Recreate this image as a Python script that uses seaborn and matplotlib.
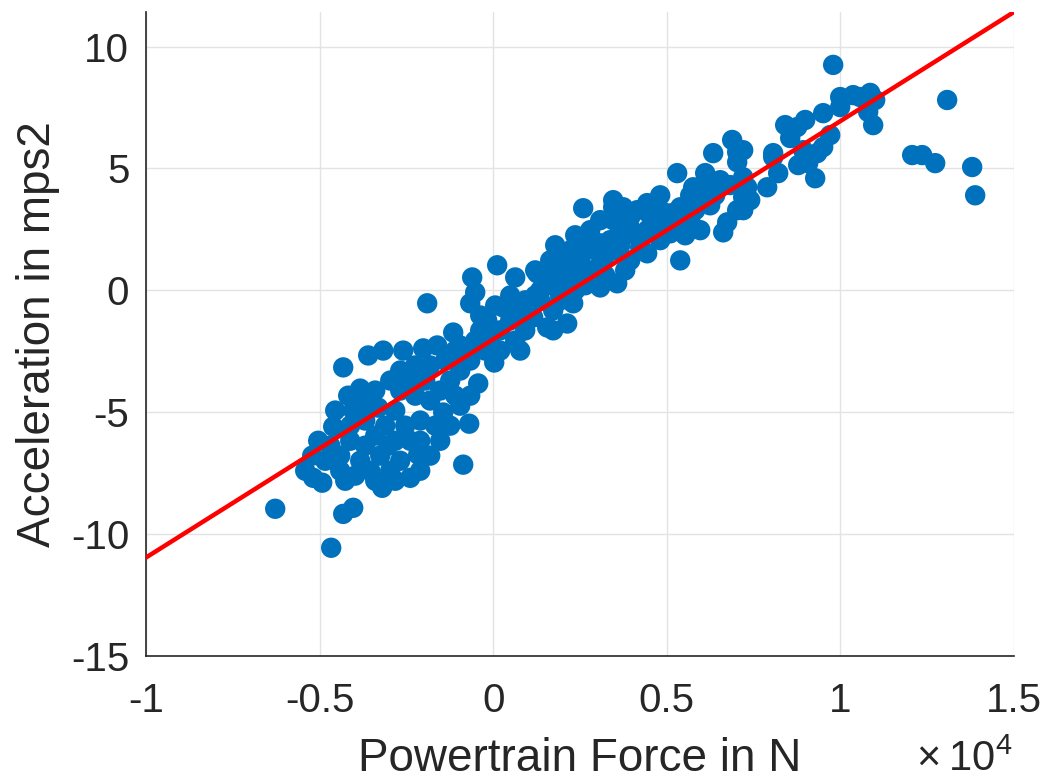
import numpy as np
import pandas as pd
import matplotlib
matplotlib.use("Agg")
import matplotlib.pyplot as plt
import matplotlib.ticker as mticker
import seaborn as sns

# ---- data ----
force_N = [
    -6278, -4666, -4320, -4032, -5184, -4925, -4262, -3197, -2390, -2160,
    -864, -691, -1440, -5040, -4608, -4032, -4320, -3600, -3168, -2592,
    -1901, -1152, -3830, -3312, -432, 29, -2016,
    -4694, -4406, -4118, -3830, -3542, -3686, -3254, -2966, -2822, -2678,
    -3110, -2822, -2534, -2390, -2102, -1814, -1526, -1958, -2246, -2678,
    -2966, -3398, -3686, -4118, -4406, -3974, -3398, -2822, -2102, -1814,
    -1526, -1238, -950, -1238, -950, -1382, -1814, -2246, -2678, -2390,
    -1613, -806, -518, -1094, -662, -4550, -4176, -4838, -5213, -5414,
    -3398, -3024, -3485, -2102, -1670, -1094, -3830,
    -374, -86, 202, 490, -230, -662, -950, 202, 634, 922, 778,
    -662, -518, -605, 115, 634, -173, 288, 778, 1152, 1267, 1555, 1728,
    1555, 2131, 2304, 1728, 1210, 922, 1498, 490, 58, -374, 1354, 1930, 634,
    1354, 1642, 1930, 2218, 1930, 2362, 2650, 2794, 3082, 2938, 3226, 3514,
    3370, 3658, 3802, 3946, 2506, 2218, 1930, 2650, 2592, 3082, 3456, 3456,
    3456, 3744, 4147, 3082, 3571, 2707, 4234, 3946, 4435, 3658, 3946, 4435,
    4810, 4522, 4666, 4234, 3802, 3226, 2218, 2016, 1642, 1210, 1786, 2794,
    3082, 2362,
    4810, 5098, 4435, 5386, 5098, 5674, 5962, 5386, 5760, 6163, 6538, 5299,
    6106, 6336, 6883, 7027, 7027, 7315, 7200, 7027, 6739, 6624, 7891, 8064,
    4810, 4954, 5242, 5530, 5818, 5962, 6250, 5674, 6394, 6826,
    9792, 9994, 10368, 10858, 11002, 10800, 10944, 9994, 13075, 12067, 12355,
    12730, 13795, 13882, 9504, 8986, 8410, 8554, 9706, 9504, 9331, 8928,
    8064, 8208, 8784, 9274, 9072, 7200, 7200, 7402, 7200, 8755, 10570,
]
accel_mps2 = [
    -8.96, -10.56, -9.17, -8.92, -7.69, -7.89, -7.81, -8.10, -7.69, -6.74,
    -7.15, -5.47, -5.01, -6.17, -5.59, -4.93, -3.16, -2.67, -2.47, -2.47,
    -0.53, -1.73, -4.03, -4.81, -3.82, -2.96, -2.38,
    -6.37, -6.78, -6.17, -6.99, -7.40, -6.37, -6.78, -7.40, -6.17, -6.99,
    -5.55, -4.93, -5.55, -6.17, -5.34, -4.52, -4.11, -3.70, -4.32, -4.11,
    -3.70, -4.11, -5.34, -5.55, -7.40, -7.60, -7.81, -7.81, -7.40, -6.78,
    -6.17, -5.55, -4.73, -3.70, -3.29, -2.88, -3.08, -3.08, -3.29, -3.70,
    -2.26, -2.55, -2.06, -2.47, -4.32, -4.93, -4.32, -6.99, -6.78, -7.40,
    -5.96, -6.37, -4.73, -6.17, -5.55, -4.32, -4.52,
    -1.64, -2.06, -1.64, -1.23, -2.47, -2.88, -2.26, -2.47, -2.06, -1.64, -2.47,
    -0.53, -0.08, 0.53, 1.03, 0.53, -1.23, -0.70, -0.95, -1.11, 0.70, 0.82, -0.82,
    -1.52, -1.36, -0.53, -1.64, -0.21, -0.41, 0.21, -0.21, -0.62, -1.03, -0.41, -0.41, -0.82,
    0.00, 0.21, 0.41, 0.62, -0.21, 0.00, 0.21, 0.82, 1.03, 1.64, 1.44, 1.64,
    2.06, 1.85, 2.26, 2.55, 1.23, 1.15, 1.03, 1.93, 3.37, 1.93, 3.41, 2.88,
    3.70, 3.41, 3.29, 0.12, 0.29, 0.82, 1.77, 1.23, 2.47, 2.47, 3.00, 3.58,
    3.90, 3.08, 2.67, 2.26, 0.82, 0.62, 1.64, 1.36, 1.23, 0.82, 1.85, 2.47,
    2.88, 2.26,
    2.06, 2.34, 1.52, 1.23, 3.16, 2.88, 2.47, 3.41, 4.23, 4.40, 4.52, 4.81,
    4.81, 5.63, 6.17, 5.67, 5.26, 4.23, 3.82, 3.29, 2.79, 2.38, 4.23, 5.63,
    3.29, 2.88, 2.67, 2.26, 3.29, 3.70, 3.49, 3.90, 3.90, 4.32,
    9.25, 7.93, 8.01, 8.10, 7.81, 7.32, 6.78, 7.52, 7.81, 5.55, 5.55,
    5.22, 5.06, 3.90, 7.27, 6.99, 6.78, 6.25, 6.37, 5.88, 5.63, 5.75,
    5.47, 4.81, 5.14, 4.60, 5.22, 5.75, 4.64, 3.70, 3.29, 6.70, 7.93,
]
fit_force_N = [-10000, 15000]
fit_accel_mps2 = [-10.96, 11.42]

x_ticks = [-10000, -5000, 0, 5000, 10000, 15000]
y_ticks = [-15, -10, -5, 0, 5, 10]

# ---- style ----
sns.set_style("white")
plt.rcParams["font.family"] = ["Liberation Sans", "DejaVu Sans"]
plt.rcParams["axes.unicode_minus"] = False
plt.rcParams["mathtext.fontset"] = "custom"
plt.rcParams["mathtext.rm"] = "Liberation Sans"

fig = plt.figure(figsize=(10.47, 7.84), dpi=100)
ax = fig.add_axes([146 / 1047, 1 - 656 / 784, (1014 - 146) / 1047, (656 - 12) / 784])

df = pd.DataFrame({"force": force_N, "accel": accel_mps2})
fit = pd.DataFrame({"force": fit_force_N, "accel": fit_accel_mps2})

sns.scatterplot(data=df, x="force", y="accel", ax=ax, s=215, color="#0072BD",
                edgecolor="none", linewidth=0, alpha=1.0, zorder=3)
sns.lineplot(data=fit, x="force", y="accel", ax=ax, color="#FF0000",
             linewidth=3.2, zorder=4)

ax.set_xlim(-10000, 15000)
ax.set_ylim(-15, 11.42)
ax.set_xticks(x_ticks)
ax.set_yticks(y_ticks)
ax.xaxis.set_major_formatter(mticker.FuncFormatter(lambda v, p: f"{v / 1e4:g}"))
ax.yaxis.set_major_formatter(mticker.FuncFormatter(lambda v, p: f"{v:g}"))

ax.grid(True, color="#e3e3e3", linewidth=1.0, zorder=0)
ax.set_axisbelow(True)
for side in ["top", "right"]:
    ax.spines[side].set_visible(False)
for side in ["left", "bottom"]:
    ax.spines[side].set_color("#262626")
    ax.spines[side].set_linewidth(1.2)

ax.tick_params(axis="both", direction="in", length=7, width=1.2, color="#262626",
               labelsize=29, labelcolor="#262626")
ax.tick_params(axis="x", pad=19)
ax.tick_params(axis="y", pad=12)

ax.set_xlabel("Powertrain Force in N", fontsize=33, color="#262626", labelpad=12)
ax.set_ylabel("Acceleration in mps2", fontsize=33, color="#262626", labelpad=8)

ax.text(0.998, -0.178, "$\\mathregular{\u00d7\u200910^4}$", transform=ax.transAxes,
        ha="right", va="baseline", fontsize=30, color="#262626")

fig.savefig("out.png", dpi=100)
